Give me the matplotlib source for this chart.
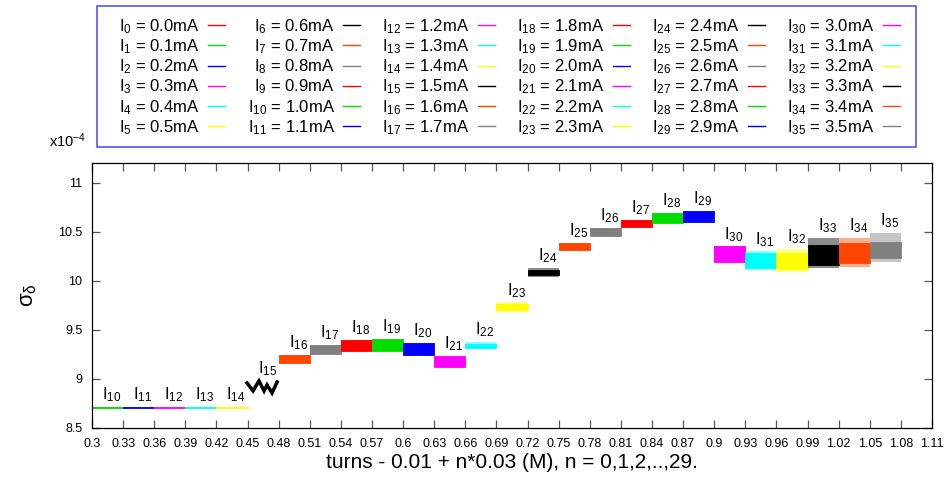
import numpy as np
import matplotlib
matplotlib.use("Agg")
import matplotlib.pyplot as plt
from matplotlib.lines import Line2D
from matplotlib.patches import Rectangle

plt.rcParams['font.family'] = ['Liberation Sans', 'DejaVu Sans']
plt.rcParams['mathtext.fontset'] = 'custom'
plt.rcParams['mathtext.rm'] = 'Liberation Sans'
plt.rcParams['mathtext.it'] = 'Liberation Sans:italic'
plt.rcParams['mathtext.default'] = 'regular'

# legend entries: current of each run, I0 .. I35
currents = [0.0, 0.1, 0.2, 0.3, 0.4, 0.5, 0.6, 0.7, 0.8, 0.9,
            1.0, 1.1, 1.2, 1.3, 1.4, 1.5, 1.6, 1.7, 1.8, 1.9,
            2.0, 2.1, 2.2, 2.3, 2.4, 2.5, 2.6, 2.7, 2.8, 2.9,
            3.0, 3.1, 3.2, 3.3, 3.4, 3.5]

# gnuplot-like colour cycle
palette = ['#ff0000', '#00dd00', '#0000ff', '#ff00ff', '#00ffff',
           '#ffff00', '#000000', '#ff4500', '#808080']

# plotted runs (I10 .. I35), each one spans 0.03 turns
seg_idx = [10, 11, 12, 13, 14, 15, 16, 17, 18, 19, 20, 21, 22,
           23, 24, 25, 26, 27, 28, 29, 30, 31, 32, 33, 34, 35]
seg_x0 = [0.30, 0.33, 0.36, 0.39, 0.42, 0.45, 0.48, 0.51, 0.54,
          0.57, 0.60, 0.63, 0.66, 0.69, 0.72, 0.75, 0.78, 0.81,
          0.84, 0.87, 0.90, 0.93, 0.96, 0.99, 1.02, 1.05]
seg_w = 0.03

# sigma_delta band (x1e-4): dense core and outer spike envelope
core_lo = [8.699, 8.699, 8.699, 8.699, 8.699, 8.86, 9.166, 9.252, 9.286,
           9.286, 9.245, 9.126, 9.320, 9.700, 10.055, 10.309, 10.459,
           10.544, 10.589, 10.599, 10.187, 10.133, 10.122, 10.163, 10.184,
           10.235]
core_hi = [8.715, 8.715, 8.715, 8.715, 8.715, 8.98, 9.245, 9.347, 9.398,
           9.405, 9.370, 9.235, 9.355, 9.760, 10.110, 10.385, 10.538,
           10.622, 10.691, 10.714, 10.350, 10.286, 10.286, 10.367, 10.388,
           10.398]
outer_lo = [8.699, 8.699, 8.699, 8.699, 8.699, 8.86, 9.166, 9.252, 9.286,
            9.286, 9.245, 9.126, 9.303, 9.681, 10.038, 10.309, 10.459,
            10.544, 10.589, 10.599, 10.187, 10.112, 10.085, 10.133, 10.143,
            10.194]
outer_hi = [8.715, 8.715, 8.715, 8.715, 8.715, 8.98, 9.245, 9.347, 9.398,
            9.405, 9.370, 9.235, 9.374, 9.779, 10.130, 10.385, 10.538,
            10.622, 10.691, 10.714, 10.350, 10.299, 10.327, 10.439, 10.439,
            10.490]

# I15 oscillates slowly, read as a polyline
i15_x = [0.4495, 0.4553, 0.4610, 0.4659, 0.4688, 0.4736, 0.4785]
i15_y = [8.959, 8.878, 8.980, 8.878, 8.939, 8.857, 8.969]

xticks = [0.3, 0.33, 0.36, 0.39, 0.42, 0.45, 0.48, 0.51, 0.54, 0.57, 0.6,
          0.63, 0.66, 0.69, 0.72, 0.75, 0.78, 0.81, 0.84, 0.87, 0.9, 0.93,
          0.96, 0.99, 1.02, 1.05, 1.08, 1.11]
yticks = [8.5, 9, 9.5, 10, 10.5, 11]

W, H = 945, 478
fig = plt.figure(figsize=(W / 100, H / 100), dpi=100)
ax = fig.add_axes([92 / W, 1 - 428 / H, 840 / W, 265 / H])

for i, k in enumerate(seg_idx):
    c = palette[k % 9]
    x0 = seg_x0[i]
    if k == 15:
        ax.plot(i15_x, i15_y, color=c, lw=2.5, solid_joinstyle='miter')
    else:
        ax.fill_between([x0, x0 + seg_w], outer_lo[i], outer_hi[i],
                        color=c, alpha=0.45, lw=0)
        ax.fill_between([x0, x0 + seg_w], core_lo[i], core_hi[i],
                        color=c, lw=0.6)
    ax.annotate(f'I$_{{{k}}}$', xy=(x0 + seg_w / 2, outer_hi[i]),
                xytext=(3, 2), textcoords='offset points',
                ha='center', va='bottom', fontsize=12)

ax.set_xlim(0.3, 1.11)
ax.set_ylim(8.5, 11.2)
ax.set_xticks(xticks)
ax.set_xticklabels([f'{v:g}' for v in xticks])
ax.set_yticks(yticks)
ax.set_yticklabels([f'{v:g}' for v in yticks])
ax.tick_params(direction='in', length=6, width=0.9, color='#555555',
               top=True, right=True, labelsize=9)
ax.tick_params(axis='x', pad=7)
ax.tick_params(axis='y', pad=7)
for s in ax.spines.values():
    s.set_linewidth(0.9)

ax.set_xlabel('turns - 0.01 + n*0.03 (M), n = 0,1,2,..,29.',
              fontsize=15, labelpad=2)
ax.set_ylabel(r'$\sigma_{\delta}$', fontsize=16, labelpad=14)
fig.text(86 / W, 1 - 147 / H, 'x10$^{-4}$', ha='right', va='baseline',
         fontsize=10.5)

# key box (drawn separately so its border sits where the original one is)
fig.add_artist(Rectangle((97 / W, 1 - 147 / H), 819 / W, 141 / H,
                         transform=fig.transFigure, fill=False,
                         edgecolor='#5555ff', lw=1.2))
handles = [Line2D([], [], color=palette[k % 9], lw=1.0)
           for k in range(len(currents))]
labels = [f'I$_{{{k}}}$ = {v:.1f}mA' for k, v in enumerate(currents)]
leg = fig.legend(handles, labels, ncol=6, loc='upper left',
                 bbox_to_anchor=(119 / W, 1 - 17 / H), markerfirst=False,
                 fontsize=12, handlelength=1.0, handletextpad=0.5,
                 columnspacing=1.37, labelspacing=0.09, borderpad=0,
                 borderaxespad=0, frameon=False)

fig.savefig('out.png', dpi=100)
